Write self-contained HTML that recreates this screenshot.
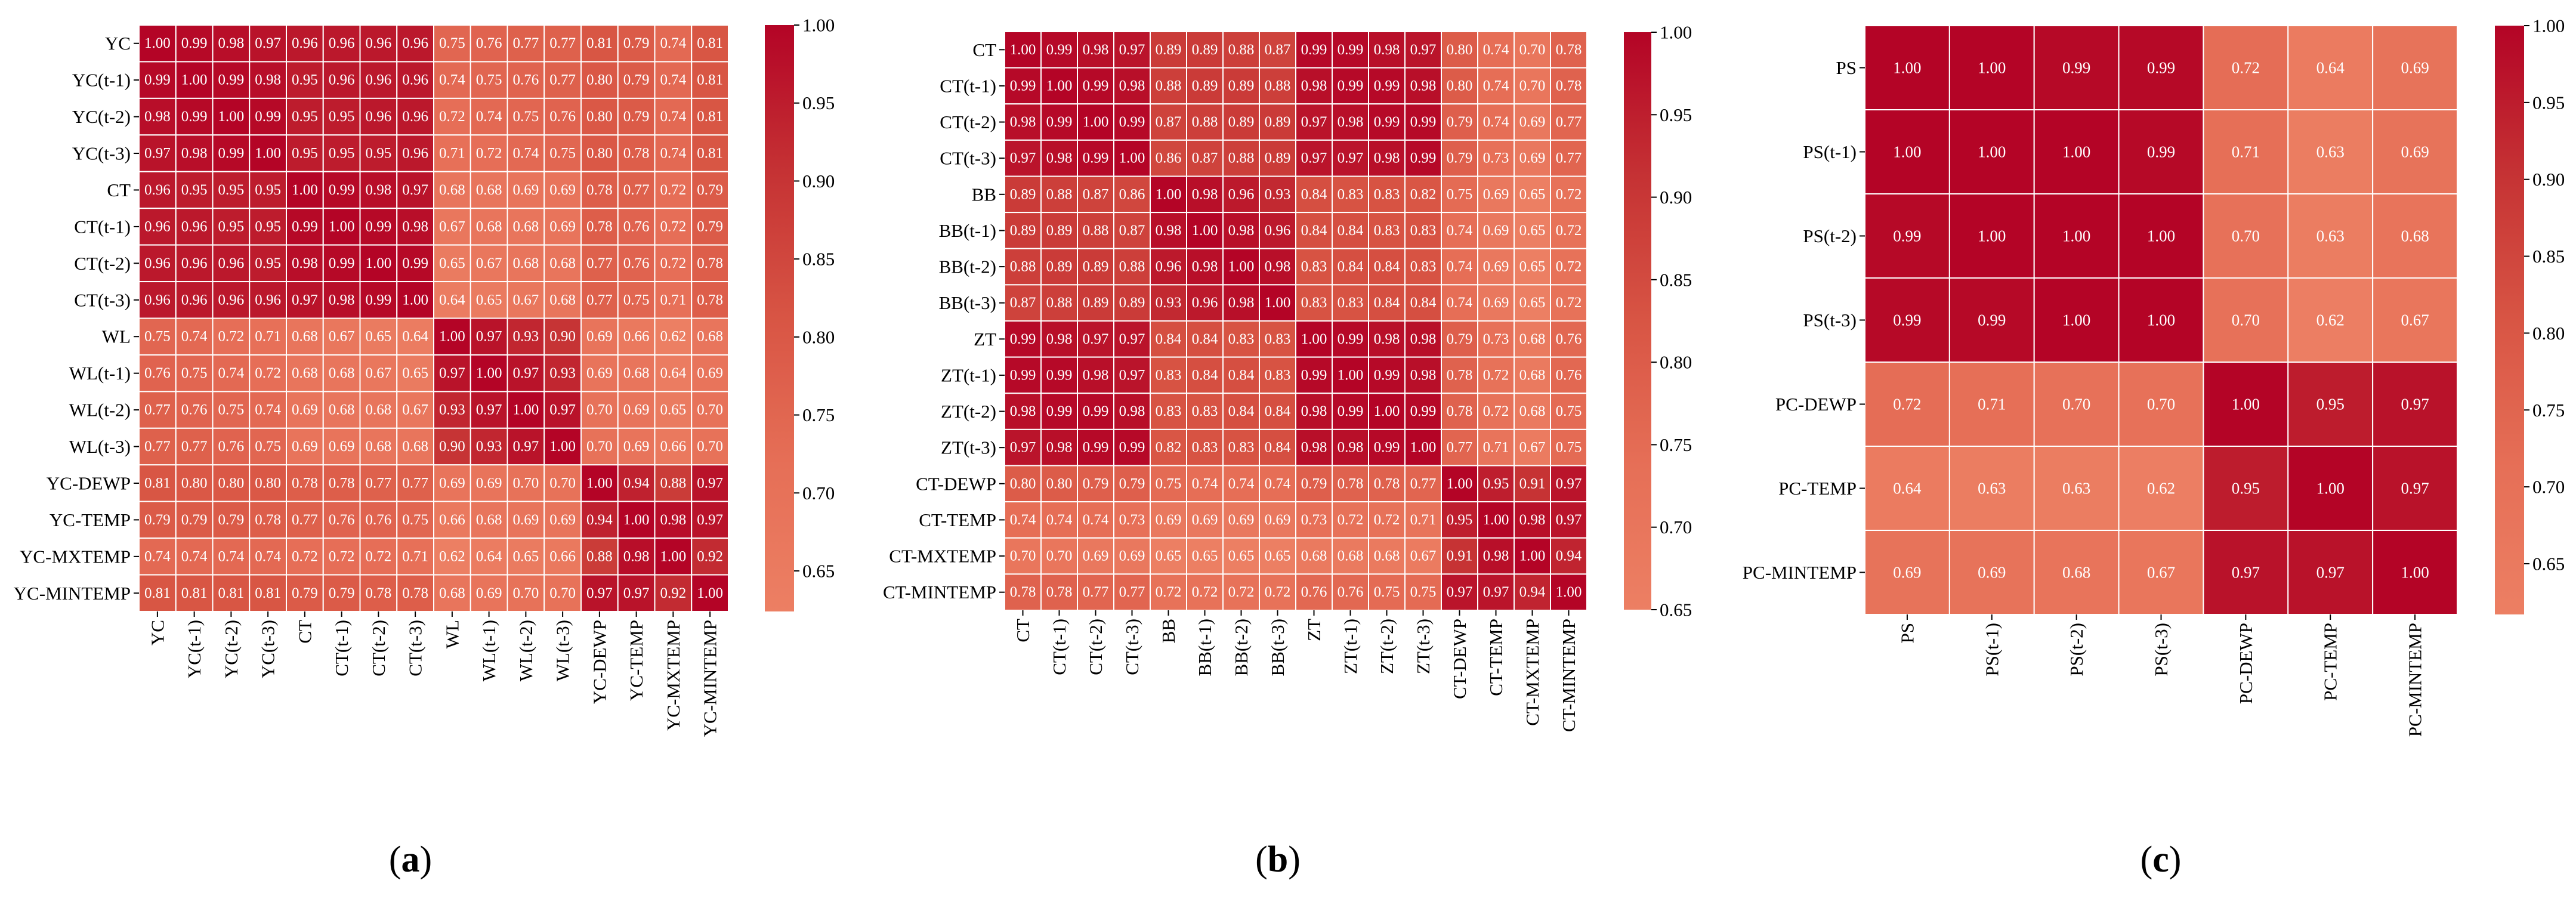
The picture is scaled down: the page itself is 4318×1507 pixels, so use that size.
<!DOCTYPE html>
<html><head><meta charset="utf-8">
<style>
html,body{margin:0;padding:0;background:#fff;}
svg{display:block;}
text{font-family:"Liberation Serif","Times New Roman",serif;}
</style></head>
<body>
<svg id="fig" width="4318" height="1507" viewBox="0 0 4318 1507" xmlns="http://www.w3.org/2000/svg"></svg>
<script>
// ---------- data ----------
const labelsA = ["YC","YC(t-1)","YC(t-2)","YC(t-3)","CT","CT(t-1)","CT(t-2)","CT(t-3)","WL","WL(t-1)","WL(t-2)","WL(t-3)","YC-DEWP","YC-TEMP","YC-MXTEMP","YC-MINTEMP"];
const valuesA = [
[1.00,.99,.98,.97,.96,.96,.96,.96,.75,.76,.77,.77,.81,.79,.74,.81],
[.99,1.00,.99,.98,.95,.96,.96,.96,.74,.75,.76,.77,.80,.79,.74,.81],
[.98,.99,1.00,.99,.95,.95,.96,.96,.72,.74,.75,.76,.80,.79,.74,.81],
[.97,.98,.99,1.00,.95,.95,.95,.96,.71,.72,.74,.75,.80,.78,.74,.81],
[.96,.95,.95,.95,1.00,.99,.98,.97,.68,.68,.69,.69,.78,.77,.72,.79],
[.96,.96,.95,.95,.99,1.00,.99,.98,.67,.68,.68,.69,.78,.76,.72,.79],
[.96,.96,.96,.95,.98,.99,1.00,.99,.65,.67,.68,.68,.77,.76,.72,.78],
[.96,.96,.96,.96,.97,.98,.99,1.00,.64,.65,.67,.68,.77,.75,.71,.78],
[.75,.74,.72,.71,.68,.67,.65,.64,1.00,.97,.93,.90,.69,.66,.62,.68],
[.76,.75,.74,.72,.68,.68,.67,.65,.97,1.00,.97,.93,.69,.68,.64,.69],
[.77,.76,.75,.74,.69,.68,.68,.67,.93,.97,1.00,.97,.70,.69,.65,.70],
[.77,.77,.76,.75,.69,.69,.68,.68,.90,.93,.97,1.00,.70,.69,.66,.70],
[.81,.80,.80,.80,.78,.78,.77,.77,.69,.69,.70,.70,1.00,.94,.88,.97],
[.79,.79,.79,.78,.77,.76,.76,.75,.66,.68,.69,.69,.94,1.00,.98,.97],
[.74,.74,.74,.74,.72,.72,.72,.71,.62,.64,.65,.66,.88,.98,1.00,.92],
[.81,.81,.81,.81,.79,.79,.78,.78,.68,.69,.70,.70,.97,.97,.92,1.00]];
const labelsB = ["CT","CT(t-1)","CT(t-2)","CT(t-3)","BB","BB(t-1)","BB(t-2)","BB(t-3)","ZT","ZT(t-1)","ZT(t-2)","ZT(t-3)","CT-DEWP","CT-TEMP","CT-MXTEMP","CT-MINTEMP"];
const valuesB = [
[1.00,.99,.98,.97,.89,.89,.88,.87,.99,.99,.98,.97,.80,.74,.70,.78],
[.99,1.00,.99,.98,.88,.89,.89,.88,.98,.99,.99,.98,.80,.74,.70,.78],
[.98,.99,1.00,.99,.87,.88,.89,.89,.97,.98,.99,.99,.79,.74,.69,.77],
[.97,.98,.99,1.00,.86,.87,.88,.89,.97,.97,.98,.99,.79,.73,.69,.77],
[.89,.88,.87,.86,1.00,.98,.96,.93,.84,.83,.83,.82,.75,.69,.65,.72],
[.89,.89,.88,.87,.98,1.00,.98,.96,.84,.84,.83,.83,.74,.69,.65,.72],
[.88,.89,.89,.88,.96,.98,1.00,.98,.83,.84,.84,.83,.74,.69,.65,.72],
[.87,.88,.89,.89,.93,.96,.98,1.00,.83,.83,.84,.84,.74,.69,.65,.72],
[.99,.98,.97,.97,.84,.84,.83,.83,1.00,.99,.98,.98,.79,.73,.68,.76],
[.99,.99,.98,.97,.83,.84,.84,.83,.99,1.00,.99,.98,.78,.72,.68,.76],
[.98,.99,.99,.98,.83,.83,.84,.84,.98,.99,1.00,.99,.78,.72,.68,.75],
[.97,.98,.99,.99,.82,.83,.83,.84,.98,.98,.99,1.00,.77,.71,.67,.75],
[.80,.80,.79,.79,.75,.74,.74,.74,.79,.78,.78,.77,1.00,.95,.91,.97],
[.74,.74,.74,.73,.69,.69,.69,.69,.73,.72,.72,.71,.95,1.00,.98,.97],
[.70,.70,.69,.69,.65,.65,.65,.65,.68,.68,.68,.67,.91,.98,1.00,.94],
[.78,.78,.77,.77,.72,.72,.72,.72,.76,.76,.75,.75,.97,.97,.94,1.00]];
const labelsC = ["PS","PS(t-1)","PS(t-2)","PS(t-3)","PC-DEWP","PC-TEMP","PC-MINTEMP"];
const valuesC = [
[1.00,1.00,.99,.99,.72,.64,.69],
[1.00,1.00,1.00,.99,.71,.63,.69],
[.99,1.00,1.00,1.00,.70,.63,.68],
[.99,.99,1.00,1.00,.70,.62,.67],
[.72,.71,.70,.70,1.00,.95,.97],
[.64,.63,.63,.62,.95,1.00,.97],
[.69,.69,.68,.67,.97,.97,1.00]];
const cbTicksA = [0.65,0.70,0.75,0.80,0.85,0.90,0.95,1.00];
const cbTicksB = [0.65,0.70,0.75,0.80,0.85,0.90,0.95,1.00];
const cbTicksC = [0.65,0.70,0.75,0.80,0.85,0.90,0.95,1.00];
const rangeA = [0.624,1.0];
const rangeB = [0.65,1.0];
const rangeC = [0.617,1.0];

// ---------- rendering ----------
const NS="http://www.w3.org/2000/svg";
const svg=document.getElementById('fig');
const stops=[[0,[236,127,99]],[0.25,[230,111,87]],[0.5,[216,85,68]],[0.75,[197,50,52]],[1,[180,4,38]]];
function cmap(t){t=Math.max(0,Math.min(1,t));
  for(let i=1;i<stops.length;i++){if(t<=stops[i][0]){const a=stops[i-1],b=stops[i];const f=(t-a[0])/(b[0]-a[0]);
    const c=a[1].map((v,k)=>Math.round(v+(b[1][k]-v)*f));return `rgb(${c[0]},${c[1]},${c[2]})`;}}
  return 'rgb(180,4,38)';}
function mk(tag,attrs,parent){const e=document.createElementNS(NS,tag);for(const k in attrs)e.setAttribute(k,attrs[k]);(parent||svg).appendChild(e);return e;}

function panel(id,labels,values,range,ticks,box,cb,cap){
  const g=mk('g',{});
  
  
  const n=labels.length, cw=(box.x1-box.x0)/n, ch=(box.y1-box.y0)/n;
  const xs=i=>box.x0+i*cw, ys=j=>box.y0+j*ch;
  const col=v=>cmap((v-range[0])/(range[1]-range[0]));
  const fs=box.fs;
  for(let r=0;r<n;r++){for(let c=0;c<n;c++){
    const v=values[r][c];
    const rc=mk('rect',{x:xs(c),y:ys(r),width:cw,height:ch,fill:col(v),stroke:'#fff','stroke-width':2},g);
    
    
    const t=mk('text',{x:xs(c)+cw/2,y:ys(r)+ch/2,'text-anchor':'middle','dominant-baseline':'central','font-size':fs,fill:'#fff'},g);
    t.textContent=v.toFixed(2);
    
    
  }}
  for(let i=0;i<n;i++){
    const yc=ys(i)+ch/2;
    mk('line',{x1:box.x0-9,x2:box.x0,y1:yc,y2:yc,stroke:'#000','stroke-width':2},g);
    const t=mk('text',{x:box.x0-14,y:yc,'text-anchor':'end','dominant-baseline':'central','font-size':31,fill:'#000'},g);
    t.textContent=labels[i];
    
    
    const xc=xs(i)+cw/2;
    mk('line',{x1:xc,x2:xc,y1:box.y1,y2:box.y1+9,stroke:'#000','stroke-width':2},g);
    const tx=mk('text',{x:0,y:0,'text-anchor':'end','dominant-baseline':'central','font-size':31,fill:'#000',transform:`translate(${xc},${box.y1+14}) rotate(-90)`},g);
    tx.textContent=labels[i];
    
    
  }
  // colorbar
  const gid='grad-'+id;
  const defs=mk('defs',{},g);
  const lg=mk('linearGradient',{id:gid,x1:0,y1:1,x2:0,y2:0},defs);
  for(let k=0;k<=20;k++){mk('stop',{offset:k/20,'stop-color':cmap(k/20)},lg);}
  const cbr=mk('rect',{x:cb.x0,y:cb.y0,width:cb.x1-cb.x0,height:cb.y1-cb.y0,fill:`url(#${gid})`},g);
  
  
  const cy=v=>cb.y1-(v-range[0])/(range[1]-range[0])*(cb.y1-cb.y0);
  ticks.forEach(v=>{const y=cy(v);
    mk('line',{x1:cb.x1,x2:cb.x1+9,y1:y,y2:y,stroke:'#000','stroke-width':2},g);
    const t=mk('text',{x:cb.x1+14,y:y,'dominant-baseline':'central','font-size':31,fill:'#000'},g);
    t.textContent=v.toFixed(2);
    
    
  });
  const ct=mk('text',{x:cap.x,y:cap.y,'text-anchor':'middle','dominant-baseline':'central','font-size':62,fill:'#000'},g);
  ct.innerHTML='(<tspan font-weight="bold">'+cap.l+'</tspan>)';
  
  
}
panel('panel-a',labelsA,valuesA,rangeA,cbTicksA,{x0:233,x1:1221,y0:42,y1:1025,fs:25},{x0:1282,x1:1331,y0:42,y1:1025},{x:688,y:1441,l:'a'});
panel('panel-b',labelsB,valuesB,rangeB,cbTicksB,{x0:1684,x1:2660,y0:53,y1:1023,fs:25},{x0:2722,x1:2768,y0:54,y1:1022},{x:2142,y:1441,l:'b'});
panel('panel-c',labelsC,valuesC,rangeC,cbTicksC,{x0:3126,x1:4119,y0:43,y1:1030,fs:27},{x0:4182,x1:4231,y0:43,y1:1030},{x:3622,y:1441,l:'c'});
</script>
</body></html>
